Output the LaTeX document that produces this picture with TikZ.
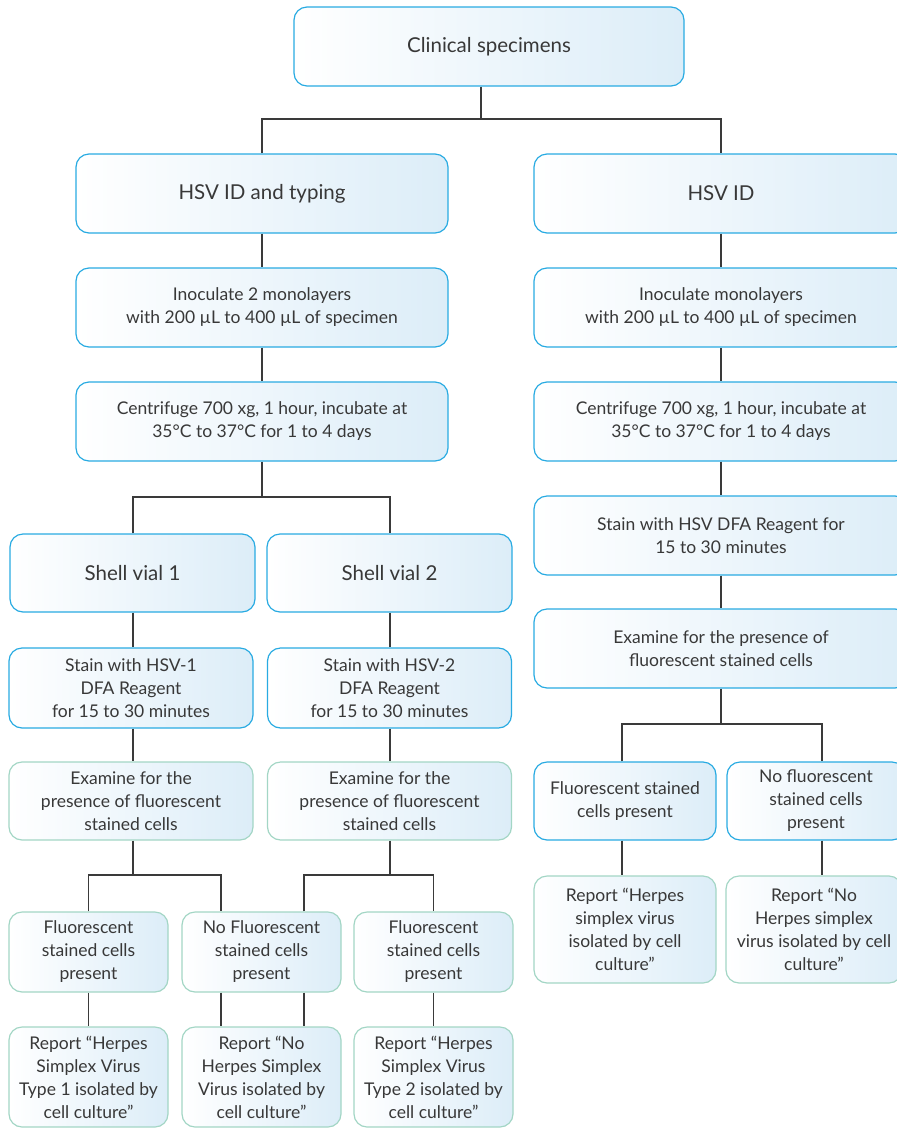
\documentclass[tikz,border=0pt]{standalone}
\usepackage{fontspec}
\setmainfont{Lato}
\definecolor{bblue}{HTML}{29ABE2}
\definecolor{bgreen}{HTML}{A3D6C5}
\definecolor{fillb}{HTML}{DCEDF8}
\definecolor{txt}{HTML}{383838}
\definecolor{lnk}{HTML}{3A3A3A}
\begin{document}
\begin{tikzpicture}[x=1pt,y=-1pt,
  box/.style={rectangle, rounded corners=13pt, line width=1.2pt, left color=white, right color=fillb, align=center, inner sep=0pt, text=txt, font=\fontsize{17.5}{23}\selectfont},
  bluebox/.style={box, draw=bblue},
  greenbox/.style={box, draw=bgreen},
  big/.style={font=\fontsize{20.5}{24}\selectfont},
  link/.style={draw=lnk, line width=1.1pt}]
\useasboundingbox (0,0) rectangle (897,1128);

% top
\node[bluebox, big, minimum width=390pt, minimum height=79pt] (top) at (489,46.5) {Clinical specimens};
% left column
\node[bluebox, big, minimum width=372pt, minimum height=79pt] (typ) at (262,193.5) {HSV ID and typing};
\node[bluebox, minimum width=372pt, minimum height=79pt] (inL) at (262,307.5) {Inoculate 2 monolayers\\with 200 µL to 400 µL of specimen};
\node[bluebox, minimum width=372pt, minimum height=79pt] (cenL) at (262,421.5) {Centrifuge 700 xg, 1 hour, incubate at\\35°C to 37°C for 1 to 4 days};
\node[bluebox, big, minimum width=245pt, minimum height=78pt] (sv1) at (132.5,573) {Shell vial 1};
\node[bluebox, big, minimum width=245pt, minimum height=78pt] (sv2) at (389.5,573) {Shell vial 2};
\node[bluebox, minimum width=244pt, minimum height=80pt] (st1) at (131,688) {Stain with HSV-1\\DFA Reagent\\for 15 to 30 minutes};
\node[bluebox, minimum width=244pt, minimum height=80pt] (st2) at (389.5,688) {Stain with HSV-2\\DFA Reagent\\for 15 to 30 minutes};
\node[greenbox, minimum width=244pt, minimum height=78pt] (ex1) at (131,801) {Examine for the\\presence of fluorescent\\stained cells};
\node[greenbox, minimum width=244pt, minimum height=78pt] (ex2) at (389.5,801) {Examine for the\\presence of fluorescent\\stained cells};
\node[greenbox, minimum width=159pt, minimum height=80pt] (fl1) at (88.5,952) {Fluorescent\\stained cells\\present};
\node[greenbox, minimum width=159pt, minimum height=80pt] (nf) at (261.5,952) {No Fluorescent\\stained cells\\present};
\node[greenbox, minimum width=159pt, minimum height=80pt] (fl2) at (433.5,952) {Fluorescent\\stained cells\\present};
\node[greenbox, minimum width=159pt, minimum height=100pt] (r1) at (88.5,1077) {Report “Herpes\\Simplex Virus\\Type 1 isolated by\\cell culture”};
\node[greenbox, minimum width=159pt, minimum height=100pt] (rnf) at (261.5,1077) {Report “No\\Herpes Simplex\\Virus isolated by\\cell culture”};
\node[greenbox, minimum width=159pt, minimum height=100pt] (r2) at (433.5,1077) {Report “Herpes\\Simplex Virus\\Type 2 isolated by\\cell culture”};
% right column
\node[bluebox, big, minimum width=374pt, minimum height=79pt] (id) at (721,193.5) {HSV ID};
\node[bluebox, minimum width=374pt, minimum height=79pt] (inR) at (721,307.5) {Inoculate monolayers\\with 200 µL to 400 µL of specimen};
\node[bluebox, minimum width=374pt, minimum height=79pt] (cenR) at (721,421.5) {Centrifuge 700 xg, 1 hour, incubate at\\35°C to 37°C for 1 to 4 days};
\node[bluebox, minimum width=374pt, minimum height=79pt] (stR) at (721,535.5) {Stain with HSV DFA Reagent for\\15 to 30 minutes};
\node[bluebox, minimum width=374pt, minimum height=79pt] (exR) at (721,648.5) {Examine for the presence of\\fluorescent stained cells};
\node[bluebox, minimum width=182pt, minimum height=78pt] (flR) at (625,801) {Fluorescent stained\\cells present};
\node[bluebox, minimum width=178pt, minimum height=78pt] (nfR) at (816,801) {No fluorescent\\stained cells\\present};
\node[greenbox, minimum width=182pt, minimum height=107pt] (rR1) at (625,929.5) {Report “Herpes\\simplex virus\\isolated by cell\\culture”};
\node[greenbox, minimum width=176pt, minimum height=107pt] (rR2) at (814,929.5) {Report “No\\Herpes simplex\\virus isolated by cell\\culture”};

% junction coordinates
\coordinate (j0) at (481,119);
\coordinate (j1) at (262,497);
\coordinate (j2) at (133,875);
\coordinate (j3) at (390,875);
\coordinate (j4) at (721,724);
\coordinate (nfa) at (221,0);
\coordinate (nfb) at (304,0);
\coordinate (flRx) at (622,0);
\coordinate (nfRx) at (822,0);

% connectors
\draw[link] (top.south -| j0) -- (j0);
\draw[link] (typ.north) |- (j0) -| (id.north);
\draw[link] (typ.south) -- (inL.north);
\draw[link] (inL.south) -- (cenL.north);
\draw[link] (cenL.south) -- (j1);
\draw[link] (sv1.north -| j2) |- (j1) -| (sv2.north -| j3);
\draw[link] (sv1.south -| j2) -- (st1.north -| j2);
\draw[link] (sv2.south -| j3) -- (st2.north -| j3);
\draw[link] (st1.south -| j2) -- (ex1.north -| j2);
\draw[link] (st2.south -| j3) -- (ex2.north -| j3);
\draw[link] (ex1.south -| j2) -- (j2);
\draw[link] (ex2.south -| j3) -- (j3);
\draw[link] (fl1.north) |- (j2) -| (nf.north -| nfa);
\draw[link] (nf.north -| nfb) |- (j3) -| (fl2.north);
\draw[link] (fl1.south) -- (r1.north);
\draw[link] (nf.south -| nfa) -- (rnf.north -| nfa);
\draw[link] (nf.south -| nfb) -- (rnf.north -| nfb);
\draw[link] (fl2.south) -- (r2.north);
\draw[link] (id.south) -- (inR.north);
\draw[link] (inR.south) -- (cenR.north);
\draw[link] (cenR.south) -- (stR.north);
\draw[link] (stR.south) -- (exR.north);
\draw[link] (exR.south) -- (j4);
\draw[link] (flR.north -| flRx) |- (j4) -| (nfR.north -| nfRx);
\draw[link] (flR.south -| flRx) -- (rR1.north -| flRx);
\draw[link] (nfR.south -| nfRx) -- (rR2.north -| nfRx);
\end{tikzpicture}
\end{document}
